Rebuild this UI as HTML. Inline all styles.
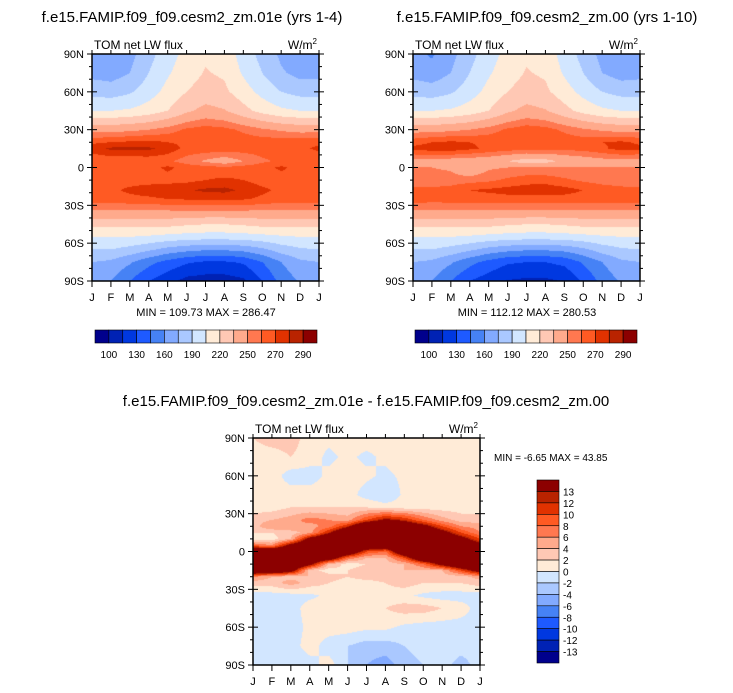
<!DOCTYPE html>
<html><head><meta charset="utf-8"><style>
body{margin:0;background:#fff;width:733px;height:693px;overflow:hidden;position:relative;font-family:"Liberation Sans",sans-serif}
canvas{position:absolute}
svg{position:absolute;left:0;top:0}
</style></head><body>
<canvas id="c1" width="227" height="227" style="left:92px;top:54px"></canvas>
<canvas id="c2" width="227" height="227" style="left:413px;top:54px"></canvas>
<canvas id="c3" width="227" height="227" style="left:253px;top:438px"></canvas>
<svg id="s" width="733" height="693"></svg>
<script>
const colors=["#00008c","#0022b4","#0038e0","#1e5aff","#4682f5","#82aaff","#aac8ff","#d2e6ff","#ffebd7","#ffc8b4","#ffaa8c","#ff7850","#ff5a23","#e13200","#b92300","#8c0000"];
const levelsAbs=[100,115,130,145,160,175,190,205,220,235,250,260,270,280,290];
const levelsDiff=[-13,-12,-10,-8,-6,-4,-2,0,2,4,6,8,10,12,13];
const absLabels=["100","130","160","190","220","250","270","290"];
const diffLabels=["13","12","10","8","6","4","2","0","-2","-4","-6","-8","-10","-12","-13"];
const months=["J","F","M","A","M","J","J","A","S","O","N","D","J"];
const latLabels=["90N","60N","30N","0","30S","60S","90S"];
const latsA=[90,75,60,45,30,20,15,5,0,-10,-18,-25,-35,-45,-55,-65,-75,-90];
const fieldLeft=[
[165,163,170,185,198,210,218,215,198,185,172,165,165],
[170,168,175,190,203,214,221,218,203,190,177,170,170],
[185,183,188,198,210,220,226,223,212,200,190,185,185],
[205,205,207,212,220,232,240,236,225,215,208,205,205],
[245,245,247,250,255,262,265,263,258,252,248,245,245],
[268,270,272,273,270,268,267,267,266,266,266,267,268],
[275,282,283,282,276,267,266,266,265,265,265,268,272],
[262,262,262,263,262,255,248,242,250,258,262,262,262],
[262,265,265,266,272,266,264,262,264,266,272,266,262],
[265,266,266,266,266,267,270,272,270,266,265,265,265],
[268,268,272,275,277,279,282,283,278,272,268,268,268],
[265,265,267,268,270,271,272,272,271,268,265,265,265],
[248,248,248,248,248,248,248,248,248,248,248,248,248],
[225,225,225,225,225,222,220,220,222,225,225,225,225],
[205,205,205,203,200,198,197,197,198,200,203,205,205],
[190,190,185,178,170,165,162,162,165,172,182,188,190],
[175,172,162,150,140,132,128,128,132,145,160,172,175],
[165,160,145,130,120,110,108,108,112,130,150,162,165]];
const fieldRight=[
[165,158,170,185,198,210,218,215,198,185,170,162,165],
[170,166,175,190,203,214,221,218,203,190,175,168,170],
[185,183,188,198,210,220,226,223,212,200,190,185,185],
[205,205,207,212,220,232,240,236,225,215,208,205,205],
[245,245,247,250,255,262,266,264,258,252,248,245,245],
[266,270,272,270,268,268,267,267,266,266,270,272,268],
[273,275,276,272,268,265,264,264,263,264,268,274,273],
[245,245,243,242,240,235,228,230,238,242,245,245,245],
[250,250,248,236,248,250,250,250,250,250,250,250,250],
[255,255,255,256,258,262,266,266,262,258,256,255,255],
[262,262,264,270,272,274,275,276,274,270,265,263,262],
[266,264,265,265,265,266,266,266,266,265,265,265,266],
[248,248,248,248,248,248,248,248,248,248,248,248,248],
[225,225,225,225,225,222,220,220,222,225,225,225,225],
[205,205,205,203,200,198,197,197,198,200,203,205,205],
[190,190,185,178,170,165,162,162,165,172,182,188,190],
[175,172,162,150,140,132,130,130,134,147,160,172,175],
[165,160,145,130,122,114,112,112,116,132,150,162,165]];
const latsD=[90,75,60,45,35,25,20,15,10,5,0,-5,-10,-15,-20,-25,-35,-45,-60,-75,-90];
const fieldDiff=[
[2,3,3,1,0.5,1,1,1,1,2,2,1,2],
[1,1,2,1,-0.5,0.5,-0.5,0.5,1,1,2,1,1],
[1,1,-1,-1,0.5,1,0.5,-0.5,0.5,1,2,2,1],
[1,1,1,1,1,1,-1,-2,0.5,1,1,1,1],
[1,1,2,2,2,2,2,1,1,1,1,1,1],
[3,4,5,7,6,5,10,14,12,8,5,3,3],
[3,6,6,5,7,12,20,20,18,15,10,6,5],
[2,2,3,5,12,20,20,20,20,20,15,10,6],
[1,1,4,15,20,20,20,20,20,20,20,15,10],
[8,6,15,20,20,20,20,20,20,20,20,20,15],
[20,20,20,20,20,20,10,8,20,20,20,20,20],
[20,20,20,20,18,8,4,4,10,20,20,20,20],
[20,20,20,15,4,1,2,3,4,8,15,20,20],
[20,20,16,3,1,2,3,4,4,4,4,10,16],
[6,4,3,4,3,2,3,3,4,3,3,3,5],
[3,3,5,3,2,1,1,2,3,2,2,2,3],
[-1,-1,-1,-0.5,0.5,1,1,1,0.5,-0.5,-1,-1,-1],
[-1,-2,-1,1,1,1,1,2,3,3,2,1,-1],
[-1,-1,-1,0.5,1,1,0.5,0.5,-0.5,-1,-1,-1,-1],
[-1,-1,-1,1,-1,-2,-3,-3,-2,-1,-1,-1,-1],
[-1,-1,-2,-1,1,-2,-4,-5,-3,-2,-1,-3,-1]];

function hex(c){return [parseInt(c.slice(1,3),16),parseInt(c.slice(3,5),16),parseInt(c.slice(5,7),16)];}
const rgb=colors.map(hex);
function drawField(id,lats,field,levels){
  const cv=document.getElementById(id),ctx=cv.getContext('2d'),W=cv.width,H=cv.height;
  const img=ctx.createImageData(W,H);
  for(let py=0;py<H;py++){
    const lat=90-(py+0.5)/H*180;
    let i=0;while(i<lats.length-2&&lat<lats[i+1])i++;
    const t=(lats[i]-lat)/(lats[i]-lats[i+1]);
    for(let px=0;px<W;px++){
      const m=(px+0.5)/W*12;const j=Math.min(11,Math.floor(m));const u=m-j;
      const a=field[i][j]*(1-u)+field[i][j+1]*u,b=field[i+1][j]*(1-u)+field[i+1][j+1]*u;
      const v=a*(1-t)+b*t;
      let k=0;while(k<levels.length&&v>=levels[k])k++;
      const c=rgb[k],o=(py*W+px)*4;
      img.data[o]=c[0];img.data[o+1]=c[1];img.data[o+2]=c[2];img.data[o+3]=255;
    }
  }
  ctx.putImageData(img,0,0);
}
drawField('c1',latsA,fieldLeft,levelsAbs);
drawField('c2',latsA,fieldRight,levelsAbs);
drawField('c3',latsD,fieldDiff,levelsDiff);

const S=document.getElementById('s');const NS="http://www.w3.org/2000/svg";
function el(tag,attrs,txt){const e=document.createElementNS(NS,tag);for(const k in attrs)e.setAttribute(k,attrs[k]);if(txt!==undefined)e.textContent=txt;S.appendChild(e);return e;}
function txt(x,y,s,size,anchor,name){const e=el('text',{x:x,y:y,'font-size':size,'text-anchor':anchor||'middle',fill:'#000'},s);return e;}
function axes(x0,y0,w,h,pre){
  const r=el('rect',{x:x0,y:y0,width:w,height:h,fill:'none',stroke:'#000','stroke-width':1.5});
  
  for(let d=0;d<=18;d++){const y=y0+d/18*h;const maj=d%3==0;const L=maj?5:3;
    el('line',{x1:x0-L,x2:x0+(maj?5:0),y1:y,y2:y,stroke:'#000','stroke-width':1});
    el('line',{x1:x0+w-(maj?5:0),x2:x0+w+L,y1:y,y2:y,stroke:'#000','stroke-width':1});
    if(maj){txt(x0-8,y+4,latLabels[d/3],11,'end',pre+'-y-label');}}
  for(let m=0;m<=12;m++){const x=x0+m/12*w;
    el('line',{x1:x,x2:x,y1:y0+h,y2:y0+h+6,stroke:'#000','stroke-width':1});
    el('line',{x1:x,x2:x,y1:y0,y2:y0-4,stroke:'#000','stroke-width':1});
    txt(x,y0+h+20,months[m],11,'middle',pre+'-x-label');}
  txt(x0+2,y0-5,'TOM net LW flux',12,'start',pre+'-subtitle');
  const u=el('text',{x:x0+w-2,y:y0-5,'font-size':12,'text-anchor':'end'});
  u.innerHTML='W/m<tspan font-size="8" dy="-5">2</tspan>';
}
axes(92,54,227,227,'left');axes(413,54,227,227,'right');axes(253,438,227,227,'diff');
txt(192,22,'f.e15.FAMIP.f09_f09.cesm2_zm.01e (yrs 1-4)',15,'middle','left-title');
txt(547,22,'f.e15.FAMIP.f09_f09.cesm2_zm.00 (yrs 1-10)',15,'middle','right-title');
txt(366,406,'f.e15.FAMIP.f09_f09.cesm2_zm.01e - f.e15.FAMIP.f09_f09.cesm2_zm.00',15,'middle','diff-title');
txt(206,316,'MIN = 109.73 MAX = 286.47',11,'middle','left-minmax');
txt(527,316,'MIN = 112.12 MAX = 280.53',11,'middle','right-minmax');
txt(494,461,'MIN =  -6.65 MAX =  43.85',10,'start','diff-minmax');
function hbar(x0,y0,w,h,pre){const bw=w/16;
  for(let i=0;i<16;i++){const r=el('rect',{x:x0+i*bw,y:y0,width:bw,height:h,fill:colors[i],stroke:'#000','stroke-width':0.6});}
  for(let k=0;k<absLabels.length;k++)txt(x0+(2*k+1)*bw,y0+h+15,absLabels[k],10,'middle',pre+'-colorbar-label');}
hbar(95,330,222,13,'left');hbar(415,330,222,13,'right');
(function(){const x0=537,y0=480,w=22,h=183,bh=h/16;
  for(let i=0;i<16;i++){const r=el('rect',{x:x0,y:y0+i*bh,width:w,height:bh,fill:colors[15-i],stroke:'#000','stroke-width':0.6});}
  for(let k=0;k<diffLabels.length;k++)txt(x0+w+4,y0+(k+1)*bh+4,diffLabels[k],10,'start','diff-colorbar-label');})();
</script>
</body></html>
